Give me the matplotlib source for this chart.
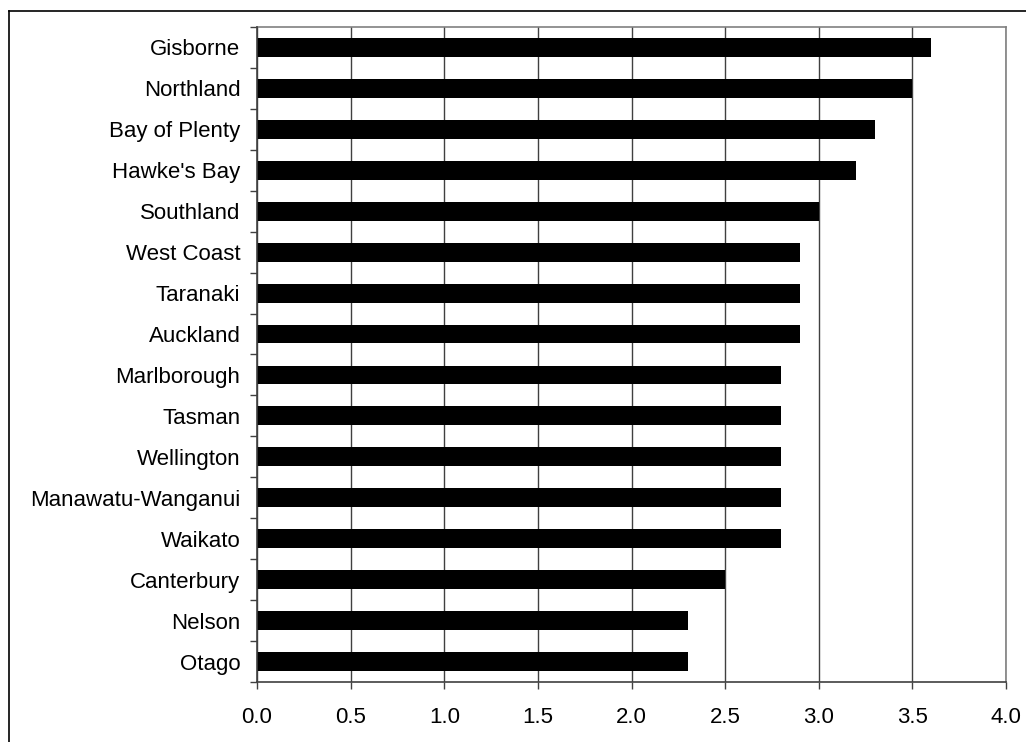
import matplotlib.pyplot as plt
from matplotlib.lines import Line2D

regions = [
    "Gisborne", "Northland", "Bay of Plenty", "Hawke's Bay", "Southland",
    "West Coast", "Taranaki", "Auckland", "Marlborough", "Tasman",
    "Wellington", "Manawatu-Wanganui", "Waikato", "Canterbury", "Nelson", "Otago",
]
values = [3.6, 3.5, 3.3, 3.2, 3.0, 2.9, 2.9, 2.9, 2.8, 2.8, 2.8, 2.8, 2.8, 2.5, 2.3, 2.3]
x_ticks = [0.0, 0.5, 1.0, 1.5, 2.0, 2.5, 3.0, 3.5, 4.0]

plt.rcParams["font.family"] = ["Liberation Sans", "DejaVu Sans"]

fig = plt.figure(figsize=(10.26, 7.42), dpi=100)
ax = fig.add_axes([0.2505, 0.0809, 0.7300, 0.8827])

positions = list(range(len(regions)))
ax.barh(positions, values, height=0.46, color="black", zorder=3)

ax.set_xlim(0, 4.0)
ax.set_ylim(len(regions) - 0.5, -0.5)
ax.set_xticks(x_ticks)
ax.set_xticklabels([f"{t:.1f}" for t in x_ticks], fontsize=16)
ax.set_yticks(positions)
ax.set_yticklabels(regions, fontsize=16)
ax.set_yticks([p + 0.5 for p in range(-1, len(regions))], minor=True)

ax.tick_params(axis="y", which="major", length=0, pad=12)
ax.tick_params(axis="y", which="minor", length=5, width=1, color="#404040", direction="out")
ax.tick_params(axis="x", length=5, width=1, color="#404040", pad=13)

ax.grid(axis="x", color="#404040", linewidth=1, zorder=1)

for side in ("left", "bottom"):
    ax.spines[side].set_color("#404040")
    ax.spines[side].set_linewidth(1.2)
    ax.spines[side].set_zorder(4)
for side in ("top", "right"):
    ax.spines[side].set_color("#808080")
    ax.spines[side].set_linewidth(1.2)

# outer chart border (cut off at right and bottom)
fig.add_artist(Line2D([8.5 / 1026, 8.5 / 1026], [0, 1 - 11 / 742], color="black", linewidth=1.2))
fig.add_artist(Line2D([8.5 / 1026, 1], [1 - 11 / 742, 1 - 11 / 742], color="black", linewidth=1.2))

fig.savefig("out.png", dpi=100)
